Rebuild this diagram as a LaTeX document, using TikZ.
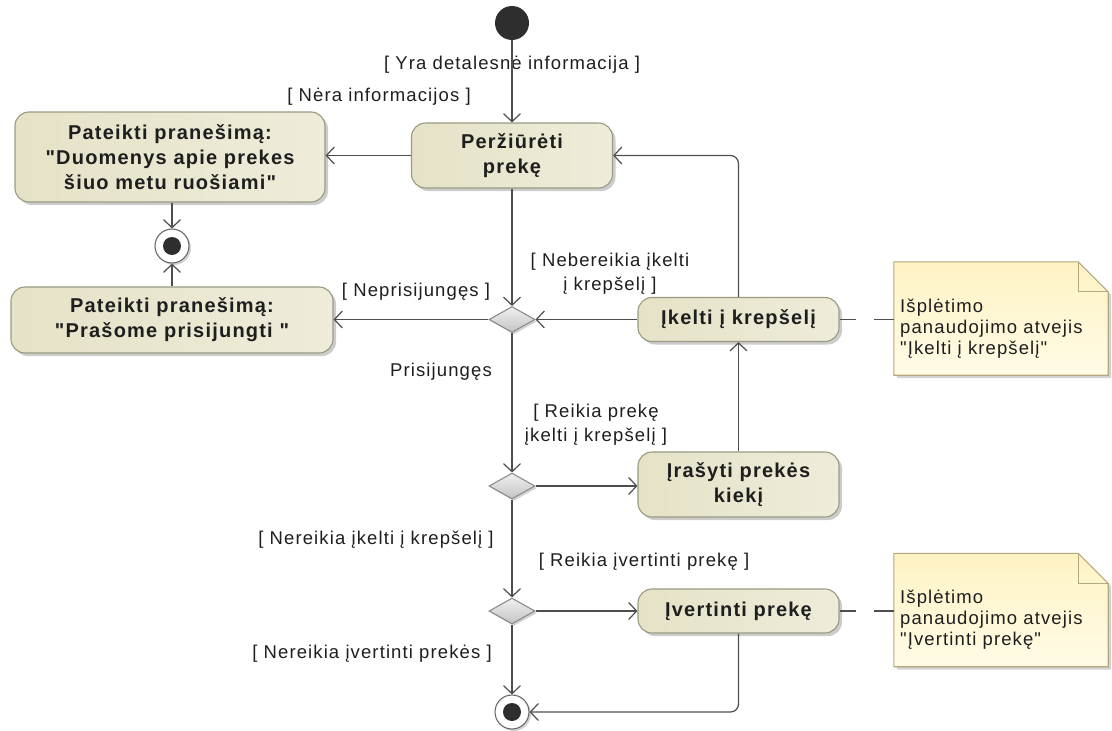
\documentclass[tikz,border=0pt]{standalone}
\usepackage{fontspec}
\setmainfont{Liberation Sans}[LetterSpace=6, Ligatures=TeXOff]
\usetikzlibrary{arrows.meta,shapes.geometric,shadows,calc}

\definecolor{linec}{HTML}{4E4E4E}
\definecolor{txt}{HTML}{1E1E1E}
\definecolor{boxline}{HTML}{9A9A82}
\definecolor{boxedge}{HTML}{E5E2C7}
\definecolor{boxmid}{HTML}{FAF9F1}
\definecolor{decline}{HTML}{8C8C8C}
\definecolor{decfill}{HTML}{E6E6E6}
\definecolor{noteline}{HTML}{B3A87E}
\definecolor{notetop}{HTML}{FFF3C4}
\definecolor{notebot}{HTML}{FFFBE6}
\definecolor{dotc}{HTML}{2E2E2E}
\definecolor{ringc}{HTML}{6A6A6A}

\newcommand{\boldtext}{\fontsize{20}{25}\selectfont\bfseries}
\newcommand{\guardtext}{\fontsize{18.5}{24}\selectfont}
\newcommand{\memotext}{\fontsize{18.5}{21}\selectfont}

\begin{document}
\begin{tikzpicture}[x=1pt,y=-1pt,
  action/.style={rectangle, rounded corners=14pt, draw=boxline, line width=1.1pt,
    left color=boxedge, middle color=boxmid, right color=boxedge!55!boxmid,
    drop shadow={shadow xshift=3pt, shadow yshift=-3pt, fill=black!50, opacity=.4},
    font=\boldtext, text=txt, align=center, inner sep=0pt},
  decision/.style={diamond, draw=decline, line width=1.1pt,
    top color=decfill!60!white, bottom color=decfill!85!black,
    minimum width=46pt, minimum height=26pt, inner sep=0pt,
    drop shadow={shadow xshift=2pt, shadow yshift=-2pt, fill=black!50, opacity=.35}},
  initial/.style={circle, fill=dotc, minimum size=34pt, inner sep=0pt},
  final/.style={circle, draw=ringc, line width=1.1pt, fill=white, minimum size=34pt, inner sep=0pt,
    drop shadow={shadow xshift=2pt, shadow yshift=-2pt, fill=black!50, opacity=.35},
    path picture={\fill[dotc] (path picture bounding box.center) circle (9pt);}},
  guard/.style={font=\guardtext, text=txt, align=center, inner sep=0pt},
  memo/.style={font=\memotext, text=txt, align=left, inner sep=0pt, anchor=west},
  noteframe/.style={rectangle, minimum width=214pt, minimum height=113pt, inner sep=0pt},
  flow/.style={draw=linec, line width=1.2pt, -{Straight Barb[length=8pt, width=17pt, line width=1.2pt]}},
  notelink/.style={draw=linec, line width=1.2pt, dash pattern=on 20pt off 18pt}
]
\useasboundingbox (0,0) rectangle (1112,731);

% --- activity nodes -------------------------------------------------------
\node[initial] (start) at (512,23) {};
\node[action, minimum width=201pt, minimum height=65pt] (view) at (512,155.5) {Peržiūrėti\\prekę};
\node[action, minimum width=310pt, minimum height=90pt] (msg1) at (170,157) {Pateikti pranešimą:\\"Duomenys apie prekes\\šiuo metu ruošiami"};
\node[final] (end1) at (172,246) {};
\node[action, minimum width=322pt, minimum height=66pt] (msg2) at (172,320) {Pateikti pranešimą:\\"Prašome prisijungti "};
\node[decision] (d1) at (512,319.5) {};
\node[action, minimum width=201pt, minimum height=44pt] (ikelti) at (738.5,319.5) {Įkelti į krepšelį};
\node[decision] (d2) at (512,486) {};
\node[action, minimum width=201pt, minimum height=65pt] (irasyti) at (738.5,484.5) {Įrašyti prekės\\kiekį};
\node[decision] (d3) at (512,611) {};
\node[action, minimum width=201pt, minimum height=44pt] (ivertinti) at (738.5,611) {Įvertinti prekę};
\node[final] (end2) at (512,712) {};

% --- notes ----------------------------------------------------------------
\node[noteframe] (note1) at (1001,318.5) {};
\node[noteframe] (note2) at (1001,610) {};
\foreach \n in {note1,note2}{
  \fill[black!50, opacity=.35] ($(\n.north west)+(3,3)$) -- ($(\n.north east)+(-27,3)$)
    -- ($(\n.north east)+(3,33)$) -- ($(\n.south east)+(3,3)$) -- ($(\n.south west)+(3,3)$) -- cycle;
  \shade[top color=notetop, bottom color=notebot, draw=noteline, line width=1.1pt]
    (\n.north west) -- ($(\n.north east)+(-30,0)$) -- ($(\n.north east)+(0,30)$)
    -- (\n.south east) -- (\n.south west) -- cycle;
  \draw[noteline, line width=1.1pt] ($(\n.north east)+(-30,0)$) |- ($(\n.north east)+(0,30)$);
}
\node[memo] (note1t) at (900,329) {Išplėtimo\\panaudojimo atvejis\\"Įkelti į krepšelį"};
\node[memo] (note2t) at (900,620) {Išplėtimo\\panaudojimo atvejis\\"Įvertinti prekę"};

% --- guards ---------------------------------------------------------------
\node[guard] (gYra) at (512,65) {[ Yra detalesnė informacija ]};
\node[guard] (gNera) at (379,97) {[ Nėra informacijos ]};
\node[guard] (gNeprs) at (416,292) {[ Neprisijungęs ]};
\node[guard] (gNebere) at (610,274) {[ Nebereikia įkelti\\į krepšelį ]};
\node[guard] (gPrisij) at (441,372) {Prisijungęs};
\node[guard] (gReikia) at (596,425) {[ Reikia prekę\\įkelti į krepšelį ]};
\node[guard] (gNereik) at (376,540) {[ Nereikia įkelti į krepšelį ]};
\node[guard] (gVert) at (644,562) {[ Reikia įvertinti prekę ]};
\node[guard] (gNevert) at (372,654) {[ Nereikia įvertinti prekės ]};

% --- control flows --------------------------------------------------------
\draw[flow] (start) -- (view);
\draw[flow] (view.west) -- (view.west -| msg1.east);
\draw[flow] (end1 |- msg1.south) -- (end1);
\draw[flow] (end1 |- msg2.north) -- (end1);
\draw[flow] (view.south) -- (d1.north);
\draw[flow] (d1.west) -- (d1.west -| msg2.east);
\draw[flow] (ikelti.west) -- (d1.east);
\draw[flow, rounded corners=8pt] (ikelti.north) |- (view.east);
\draw[flow] (d1.south) -- (d2.north);
\draw[flow] (d2.east) -- (d2.east -| irasyti.west);
\draw[flow] (irasyti.north) -- (ikelti.south);
\draw[flow] (d2.south) -- (d3.north);
\draw[flow] (d3.east) -- (d3.east -| ivertinti.west);
\draw[flow] (d3.south) -- (end2.north);
\draw[flow, rounded corners=8pt] (ivertinti.south) |- (end2.east);

% --- note anchors ---------------------------------------------------------
\draw[notelink] (note1.west |- ikelti.east) -- (ikelti.east);
\draw[notelink] (note2.west |- ivertinti.east) -- (ivertinti.east);
\end{tikzpicture}
\end{document}
